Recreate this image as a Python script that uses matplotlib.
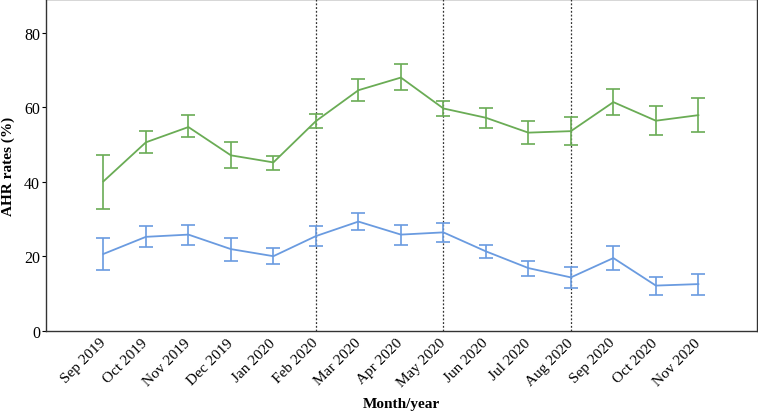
import matplotlib
matplotlib.use("Agg")
import matplotlib.pyplot as plt
import numpy as np

months = ["Sep 2019", "Oct 2019", "Nov 2019", "Dec 2019", "Jan 2020", "Feb 2020",
          "Mar 2020", "Apr 2020", "May 2020", "Jun 2020", "Jul 2020", "Aug 2020",
          "Sep 2020", "Oct 2020", "Nov 2020"]

# upper series (green)
green_rate = [40.1, 50.6, 54.7, 47.1, 45.2, 56.3, 64.6, 68.0, 59.7, 57.2, 53.2, 53.6, 61.4, 56.4, 57.9]
green_low = [32.7, 47.7, 51.9, 43.6, 43.1, 54.4, 61.6, 64.6, 57.7, 54.5, 50.1, 49.9, 58.0, 52.5, 53.5]
green_high = [47.3, 53.6, 57.9, 50.7, 46.9, 58.3, 67.5, 71.7, 61.8, 59.9, 56.2, 57.4, 64.9, 60.3, 62.5]

# lower series (blue)
blue_rate = [20.6, 25.2, 25.8, 21.9, 20.0, 25.4, 29.3, 25.8, 26.4, 21.3, 16.8, 14.3, 19.5, 12.1, 12.5]
blue_low = [16.2, 22.4, 23.1, 18.7, 17.8, 22.7, 27.0, 23.1, 23.9, 19.5, 14.7, 11.5, 16.2, 9.7, 9.7]
blue_high = [24.8, 28.0, 28.4, 24.9, 22.1, 28.1, 31.6, 28.4, 28.8, 23.0, 18.7, 17.0, 22.8, 14.3, 15.2]

markers_at = ["Feb 2020", "May 2020", "Aug 2020"]

plt.rcParams['font.family'] = ['Liberation Serif', 'DejaVu Serif']

fig = plt.figure(figsize=(7.58, 4.14), dpi=100)
ax = fig.add_axes([0.0613, 0.199, 0.9374, 0.8])

x = np.arange(len(months))

for rate, low, high, color in [(green_rate, green_low, green_high, '#6aac55'),
                               (blue_rate, blue_low, blue_high, '#6a9be0')]:
    rate = np.array(rate)
    yerr = [rate - np.array(low), np.array(high) - rate]
    ax.errorbar(x, rate, yerr=yerr, color=color, linewidth=1.3,
                elinewidth=1.2, capsize=5, capthick=1.2)

for m in markers_at:
    ax.axvline(months.index(m), color='#333333', linestyle=(0, (1.5, 1.5)),
               linewidth=0.9, zorder=0)

ax.set_xlim(-1.34, 15.38)
ax.set_ylim(0, 89)
ax.set_yticks([0, 20, 40, 60, 80])
ax.set_xticks(x)
ax.set_xticklabels(months, rotation=45, ha='right', va='center', rotation_mode='anchor')
ax.tick_params(axis='x', length=0, labelsize=11, pad=7)
ax.tick_params(axis='y', length=3, labelsize=11.5, pad=1.5)
ax.set_ylabel('AHR rates (%)', fontsize=11, fontweight='bold')
ax.set_xlabel('Month/year', fontsize=11, fontweight='bold')
ax.yaxis.set_label_coords(-0.044, 0.5)
ax.xaxis.set_label_coords(0.5, -0.20)
for s in ax.spines.values():
    s.set_color('#333333')
    s.set_linewidth(1.0)

fig.savefig('out.png', dpi=100)
